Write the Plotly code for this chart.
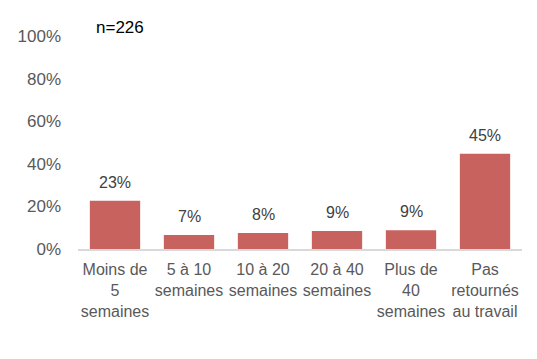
import plotly.graph_objects as go

categories = ["Moins de<br>5<br>semaines", "5 à 10<br>semaines", "10 à 20<br>semaines",
              "20 à 40<br>semaines", "Plus de<br>40<br>semaines", "Pas<br>retournés<br>au travail"]
values = [22.6, 6.6, 7.5, 8.4, 8.8, 44.7]
labels = ["23%", "7%", "8%", "9%", "9%", "45%"]
y_ticks = [0, 20, 40, 60, 80, 100]
y_ticklabels = ["0%", "20%", "40%", "60%", "80%", "100%"]

fig = go.Figure(go.Bar(
    x=categories, y=values,
    marker=dict(color="#C8625F", line=dict(width=0)),
))

annotations = [dict(x=c, y=v, text=t, xref="x", yref="y", showarrow=False,
                    yanchor="bottom", yshift=8,
                    font=dict(family="Liberation Sans, Arial", size=16, color="#404040"))
               for c, v, t in zip(categories, values, labels)]
annotations.append(dict(text="n=226", xref="paper", yref="paper", x=0.036, y=1.042,
                        xanchor="left", yanchor="middle", showarrow=False,
                        font=dict(size=17, color="#000000", family="Liberation Sans, Arial")))

fig.update_layout(
    width=537, height=359,
    margin=dict(l=78, r=15, t=36, b=110),
    plot_bgcolor="white", paper_bgcolor="white",
    bargap=0.32,
    showlegend=False,
    font=dict(family="Liberation Sans, Arial", size=16, color="#595959"),
    xaxis=dict(showline=True, linecolor="#D9D9D9", linewidth=1.5, ticks="",
               ticklabelstandoff=5,
               tickfont=dict(size=16, color="#595959"), showgrid=False),
    yaxis=dict(range=[0, 100], tickvals=y_ticks, ticktext=y_ticklabels,
               showgrid=False, zeroline=False, showline=False, ticks="",
               ticklabelstandoff=16,
               tickfont=dict(size=17, color="#595959")),
    annotations=annotations,
)

fig.write_html("out.html")
